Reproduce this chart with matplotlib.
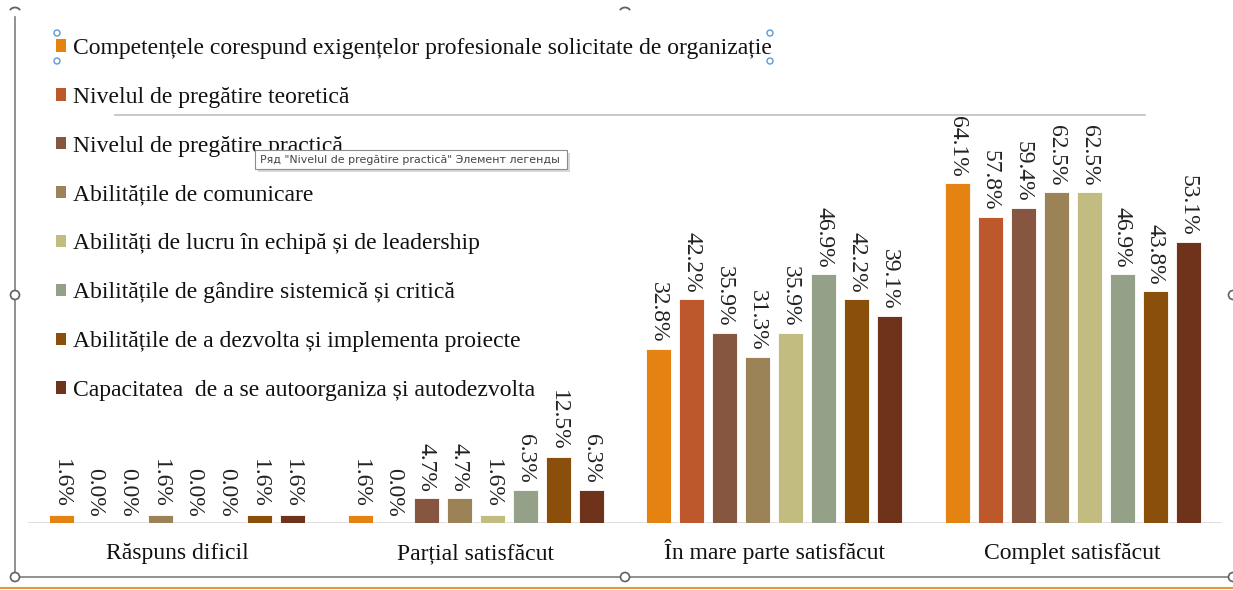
import matplotlib
matplotlib.use("Agg")
import matplotlib.pyplot as plt
from matplotlib.patches import Patch, Rectangle, Arc, Circle
import numpy as np

categories = ["Răspuns dificil", "Parțial satisfăcut", "În mare parte satisfăcut", "Complet satisfăcut"]
series_names = [
    "Competențele corespund exigențelor profesionale solicitate de organizație",
    "Nivelul de pregătire teoretică",
    "Nivelul de pregătire practică",
    "Abilitățile de comunicare",
    "Abilități de lucru în echipă și de leadership",
    "Abilitățile de gândire sistemică și critică",
    "Abilitățile de a dezvolta și implementa proiecte",
    "Capacitatea  de a se autoorganiza și autodezvolta",
]
s1 = [1.6, 1.6, 32.8, 64.1]
s2 = [0.0, 0.0, 42.2, 57.8]
s3 = [0.0, 4.7, 35.9, 59.4]
s4 = [1.6, 4.7, 31.3, 62.5]
s5 = [0.0, 1.6, 35.9, 62.5]
s6 = [0.0, 6.3, 46.9, 46.9]
s7 = [1.6, 12.5, 42.2, 43.8]
s8 = [1.6, 6.3, 39.1, 53.1]
series_values = [s1, s2, s3, s4, s5, s6, s7, s8]
colors = ["#E48312", "#BD582C", "#865640", "#9B8357", "#C2BC80", "#94A088", "#8A4F0B", "#6F321A"]

W, H = 1233, 590
fig = plt.figure(figsize=(W / 100, H / 100), dpi=100)
fam = ["Liberation Serif", "DejaVu Serif"]
plt.rcParams["font.family"] = fam

def fx(px):
    return px / W

def fy(py):
    return 1 - py / H

# axes: x from 28 to 1222 px, baseline at 523 px, top at 20 px
ax_left, ax_right, ax_bottom, ax_top = 28, 1222, 523, 20
ax = fig.add_axes([fx(ax_left), fy(ax_bottom), fx(ax_right - ax_left), (ax_bottom - ax_top) / H])
ymax = (ax_bottom - ax_top) / 5.30
ax.set_ylim(0, ymax)
ax.set_xlim(-0.5, 3.5)

slot = 33 / 298.5
bw = 25 / 298.5
x = np.arange(len(categories))
for i, (vals, c) in enumerate(zip(series_values, colors)):
    pos = x + (i - 3.5) * slot
    ax.bar(pos, vals, width=bw, color=c, edgecolor="white", linewidth=0.6, zorder=3)
    for p, v in zip(pos, vals):
        ax.text(p, v + 1.2, f"{v:.1f}%", rotation=270, ha="center", va="bottom",
                fontsize=17, color="#222222", clip_on=False)

ax.axhline(0, color="#D9D9D9", lw=1.2, zorder=2)
for sp in ax.spines.values():
    sp.set_visible(False)
ax.set_yticks([])
ax.set_xticks(x)
ax.set_xticklabels(categories, fontsize=17, color="#111111")
ax.tick_params(axis="x", length=0, pad=26)
for t in ax.get_xticklabels():
    t.set_va("baseline")
ax.patch.set_alpha(0)

# legend
handles = [Patch(facecolor=c, edgecolor="none") for c in colors]
leg = fig.legend(handles, series_names, loc="upper left",
                 bbox_to_anchor=(fx(56), fy(38)), frameon=False,
                 fontsize=17, handlelength=0.42, handleheight=0.42,
                 handletextpad=0.28, labelspacing=1.18, borderpad=0, borderaxespad=0)
for t in leg.get_texts():
    t.set_color("#111111")

# overlay axes in pixel coordinates for editor artifacts
ov = fig.add_axes([0, 0, 1, 1], zorder=10)
ov.set_xlim(0, W)
ov.set_ylim(H, 0)
ov.axis("off")
ov.patch.set_alpha(0)

ov.plot([115, 1145], [115, 115], color="#BFBFBF", lw=1.2)

gray = "#7F7F7F"
ov.plot([15, 15], [17, 577], color=gray, lw=1.2)
ov.plot([15, 1233], [577, 577], color=gray, lw=1.2)
ov.plot([0, W], [588, 588], color="#E8973A", lw=1.5)
for (cx, cy) in [(15, 295), (15, 577), (625, 577), (1233, 295), (1233, 577)]:
    ov.add_patch(Circle((cx, cy), 4.5, facecolor="white", edgecolor="#606060", lw=1.2, zorder=5))
for cx in [15, 625]:
    ov.add_patch(Arc((cx, 12), 11, 9, theta1=200, theta2=340, color="#606060", lw=1.3))
for (cx, cy) in [(57, 33), (57, 61), (770, 33), (770, 61)]:
    ov.add_patch(Circle((cx, cy), 3, facecolor="white", edgecolor="#5B9BD5", lw=1.0, zorder=5))

# tooltip
ov.add_patch(Rectangle((258, 153), 312, 19, facecolor="#D8D8D8", edgecolor="none"))
ov.add_patch(Rectangle((255, 150), 312, 19, facecolor="white", edgecolor="#8C8C8C", lw=0.8))
ov.text(260, 160, "Ряд \"Nivelul de pregătire practică\" Элемент легенды",
        fontsize=7.9, family=["DejaVu Sans"], color="#444444", va="center", ha="left")

fig.savefig("out.png", dpi=100)
